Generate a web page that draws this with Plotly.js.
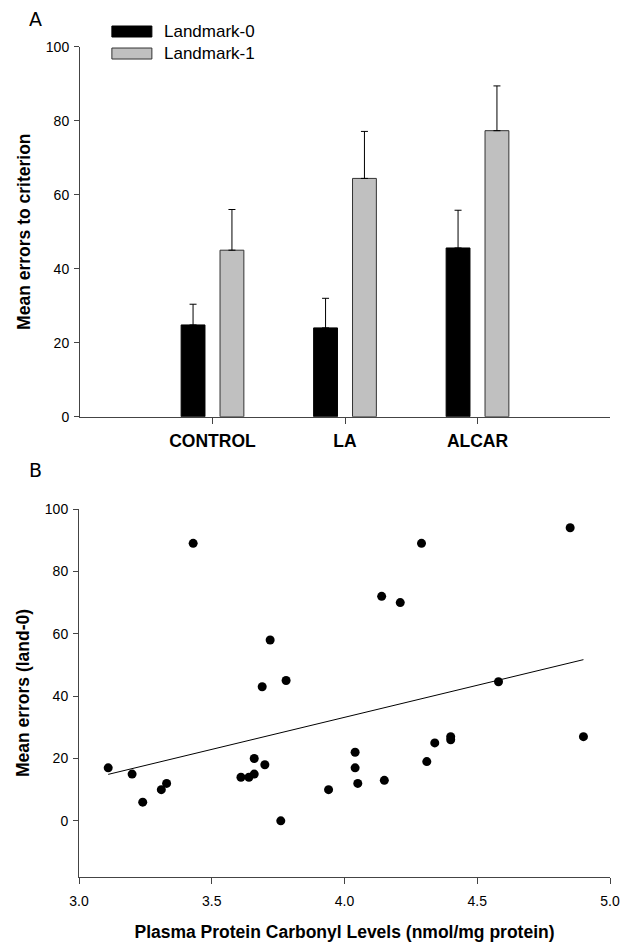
<!DOCTYPE html>
<html>
<head>
<meta charset="utf-8">
<script src="https://cdn.plot.ly/plotly-3.0.1.min.js"></script>
<style>
  html, body { margin: 0; padding: 0; background: #fff; }
  #plot { width: 625px; height: 949px; }
</style>
</head>
<body>
<div id="plot"></div>
<script>
// panel A: mean errors to criterion by group
let groups = ['CONTROL', 'LA', 'ALCAR'];
let land0 = [24.8, 24.0, 45.6];
let land0Err = [5.6, 8.0, 10.2];
let land1 = [45.0, 64.4, 77.3];
let land1Err = [11.0, 12.7, 12.1];

// panel B: carbonyl levels vs errors (land-0)
let carbonyl = [3.11, 3.20, 3.24, 3.31, 3.33, 3.43, 3.61, 3.64, 3.66, 3.66,
                3.69, 3.70, 3.72, 3.76, 3.78, 3.94, 4.04, 4.04, 4.05, 4.14,
                4.15, 4.21, 4.29, 4.31, 4.34, 4.40, 4.40, 4.58, 4.85, 4.90];
let errors0 = [17, 15, 6, 10, 12, 89, 14, 14, 15, 20,
               43, 18, 58, 0, 45, 10, 22, 17, 12, 72,
               13, 70, 89, 19, 25, 27, 26, 44.6, 94, 27];
// fitted line end points
let fitX = [3.11, 4.90];
let fitY = [14.9, 51.7];

let axisCol = '#444';
let tickFont = {family: 'Liberation Sans, Arial, sans-serif', size: 14, color: '#000'};
let titleFont = {family: 'Liberation Sans, Arial, sans-serif', size: 17.5, color: '#000', weight: 'bold'};

let trace1 = {
  x: groups,
  y: land0,
  name: 'Landmark-0',
  type: 'bar',
  marker: {color: '#000', line: {color: '#000', width: 1}},
  error_y: {type: 'data', array: land0Err, arrayminus: [0, 0, 0], symmetric: false,
            color: '#000', thickness: 1, width: 3.5},
  xaxis: 'x', yaxis: 'y'
};

let trace2 = {
  x: groups,
  y: land1,
  name: 'Landmark-1',
  type: 'bar',
  marker: {color: '#c0c0c0', line: {color: '#333', width: 1}},
  error_y: {type: 'data', array: land1Err, arrayminus: [0, 0, 0], symmetric: false,
            color: '#000', thickness: 1, width: 3.5},
  xaxis: 'x', yaxis: 'y'
};

let trace3 = {
  x: carbonyl,
  y: errors0,
  mode: 'markers',
  type: 'scatter',
  marker: {color: '#000', size: 9},
  xaxis: 'x2', yaxis: 'y2'
};

let trace4 = {
  x: fitX,
  y: fitY,
  mode: 'lines',
  type: 'scatter',
  line: {color: '#000', width: 1},
  xaxis: 'x2', yaxis: 'y2'
};

let data = [trace1, trace2, trace3, trace4];

let layout = {
  width: 625,
  height: 949,
  margin: {l: 0, r: 0, t: 0, b: 0},
  paper_bgcolor: '#fff',
  plot_bgcolor: '#fff',
  showlegend: false,
  barmode: 'group',
  bargap: 0.413,
  bargroupgap: 0.387,
  xaxis: {
    domain: [0.128, 0.976],
    anchor: 'y',
    type: 'category',
    range: [-1, 3],
    showline: true, linecolor: axisCol, linewidth: 1,
    showgrid: false, zeroline: false,
    ticks: 'outside', ticklen: 6, tickcolor: axisCol,
    ticklabelstandoff: 2,
    tickfont: {family: 'Liberation Sans, Arial, sans-serif', size: 17.5, color: '#000', weight: 'bold'}
  },
  yaxis: {
    domain: [0.5609, 0.9508],
    anchor: 'x',
    range: [0, 100],
    dtick: 20,
    showline: true, linecolor: axisCol, linewidth: 1,
    showgrid: false, zeroline: false,
    ticks: 'outside', ticklen: 5, tickcolor: axisCol,
    ticklabelstandoff: 2,
    tickfont: tickFont,
    title: {text: 'Mean errors to criterion', font: titleFont, standoff: 10}
  },
  xaxis2: {
    domain: [0.1264, 0.976],
    anchor: 'y2',
    range: [3.0, 5.0],
    dtick: 0.5,
    tickformat: '.1f',
    showline: true, linecolor: axisCol, linewidth: 1,
    showgrid: false, zeroline: false,
    ticks: 'outside', ticklen: 6, tickcolor: axisCol,
    ticklabelstandoff: 5,
    tickfont: tickFont,
    title: {text: 'Plasma Protein Carbonyl Levels (nmol/mg protein)', font: titleFont, standoff: 17}
  },
  yaxis2: {
    domain: [0.0759, 0.4636],
    anchor: 'x2',
    range: [-18, 100],
    tickvals: [0, 20, 40, 60, 80, 100],
    showline: true, linecolor: axisCol, linewidth: 1,
    showgrid: false, zeroline: false,
    ticks: 'outside', ticklen: 5, tickcolor: axisCol,
    ticklabelstandoff: 2,
    tickfont: tickFont,
    title: {text: 'Mean errors (land-0)', font: titleFont, standoff: 10}
  },
  shapes: [
    {type: 'rect', xref: 'paper', yref: 'paper', x0: 0.179, x1: 0.243, y0: 0.961, y1: 0.9726,
     fillcolor: '#000', line: {color: '#000', width: 1}},
    {type: 'rect', xref: 'paper', yref: 'paper', x0: 0.179, x1: 0.243, y0: 0.9378, y1: 0.9494,
     fillcolor: '#c0c0c0', line: {color: '#333', width: 1}}
  ],
  annotations: [
    {text: 'Landmark-0', xref: 'paper', yref: 'paper', x: 0.259, y: 0.9668, xanchor: 'left', yanchor: 'middle',
     showarrow: false, font: {family: 'Liberation Sans, Arial, sans-serif', size: 17, color: '#000'}},
    {text: 'Landmark-1', xref: 'paper', yref: 'paper', x: 0.259, y: 0.9436, xanchor: 'left', yanchor: 'middle',
     showarrow: false, font: {family: 'Liberation Sans, Arial, sans-serif', size: 17, color: '#000'}},
    {text: 'A', xref: 'paper', yref: 'paper', x: 0.056, y: 0.98, xanchor: 'center', yanchor: 'middle',
     showarrow: false, font: {family: 'DejaVu Sans, sans-serif', size: 19, color: '#000'}},
    {text: 'B', xref: 'paper', yref: 'paper', x: 0.056, y: 0.5047, xanchor: 'center', yanchor: 'middle',
     showarrow: false, font: {family: 'DejaVu Sans, sans-serif', size: 19, color: '#000'}}
  ]
};

Plotly.newPlot('plot', data, layout, {staticPlot: true});
</script>
</body>
</html>
